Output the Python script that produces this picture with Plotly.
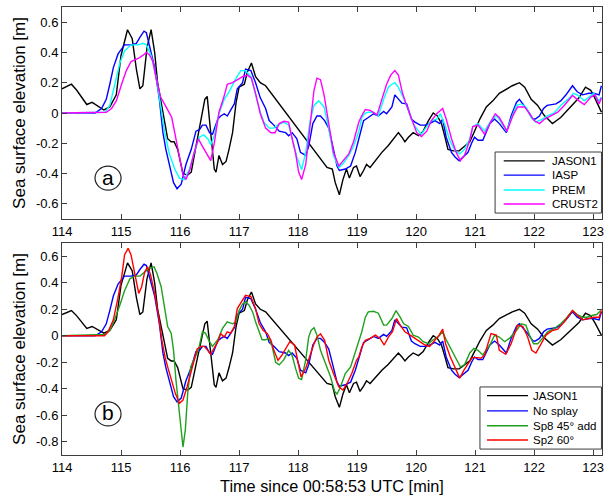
import plotly.graph_objects as go

# ---------------- data ----------------
jason_x = [114.0,114.16,114.25,114.42,114.51,114.64,114.71,114.81,114.92,115.0,115.11,115.19,115.26,115.32,115.37,115.44,115.51,115.57,115.62,115.71,115.79,115.85,115.90,115.96,116.05,116.13,116.19,116.27,116.36,116.42,116.46,116.50,116.54,116.58,116.61,116.66,116.72,116.78,116.83,116.89,116.95,117.0,117.09,117.14,117.21,117.28,117.36,117.45,118.49,118.58,118.63,118.70,118.76,118.82,118.87,118.94,118.99,119.05,119.11,119.16,119.22,119.31,119.42,119.53,119.62,119.70,119.76,119.81,119.87,119.95,120.04,120.12,120.21,120.29,120.36,120.43,120.49,120.54,120.63,120.73,120.82,120.91,120.99,121.08,121.19,121.30,121.41,121.53,121.63,121.75,121.84,121.95,122.06,122.17,122.31,122.45,122.62,122.76,122.87,122.96,123.04,123.14]
jason_y = [0.16,0.19,0.15,0.056,0.07,0.04,0.02,0.04,0.12,0.38,0.55,0.49,0.29,0.16,0.18,0.43,0.55,0.40,0.20,0.005,-0.17,-0.19,-0.19,-0.24,-0.40,-0.41,-0.39,-0.22,-0.02,0.09,0.11,-0.05,-0.25,-0.37,-0.39,-0.28,-0.34,-0.32,-0.24,-0.13,0.07,0.17,0.19,0.27,0.33,0.24,0.20,0.18,-0.36,-0.37,-0.46,-0.54,-0.44,-0.37,-0.43,-0.36,-0.35,-0.42,-0.38,-0.34,-0.36,-0.315,-0.26,-0.215,-0.17,-0.13,-0.16,-0.19,-0.16,-0.13,-0.15,-0.12,-0.05,0.0,-0.02,-0.07,-0.16,-0.24,-0.25,-0.25,-0.22,-0.19,-0.12,-0.04,0.04,0.08,0.13,0.16,0.18,0.20,0.17,0.09,0.05,-0.015,-0.07,-0.03,0.04,0.10,0.17,0.15,0.09,0.005]

iasp_x = [114.0,114.56,114.67,114.75,114.81,114.87,114.95,115.06,115.17,115.26,115.32,115.39,115.43,115.48,115.57,115.65,115.71,115.76,115.82,115.89,115.95,116.02,116.10,116.19,116.27,116.33,116.38,116.44,116.50,116.55,116.64,116.69,116.75,116.80,116.86,116.92,116.97,117.06,117.11,117.20,117.28,117.36,117.45,117.51,117.59,117.68,117.79,117.84,117.90,117.98,118.04,118.13,118.18,118.25,118.32,118.38,118.45,118.52,118.60,118.66,118.70,118.80,118.89,118.97,119.03,119.11,119.19,119.28,119.36,119.45,119.50,119.59,119.64,119.70,119.76,119.84,119.92,119.98,120.07,120.15,120.23,120.32,120.40,120.45,120.51,120.60,120.66,120.73,120.80,120.88,120.94,120.99,121.05,121.13,121.25,121.33,121.41,121.53,121.61,121.70,121.75,121.81,121.89,121.98,122.02,122.09,122.16,122.22,122.29,122.37,122.45,122.54,122.65,122.73,122.82,122.93,123.01,123.10,123.14]
iasp_y = [0.0,0.0,0.03,0.09,0.19,0.30,0.39,0.45,0.45,0.46,0.50,0.54,0.53,0.45,0.30,0.09,-0.13,-0.24,-0.35,-0.46,-0.50,-0.47,-0.34,-0.24,-0.12,-0.11,-0.08,-0.08,-0.13,-0.14,-0.04,-0.02,-0.005,-0.02,0.02,0.06,0.16,0.20,0.29,0.28,0.20,0.10,0.03,-0.05,-0.08,-0.12,-0.13,-0.15,-0.13,-0.17,-0.26,-0.28,-0.22,-0.07,-0.02,-0.02,-0.05,-0.10,-0.24,-0.35,-0.38,-0.37,-0.35,-0.26,-0.17,-0.05,-0.03,-0.005,-0.02,0.01,-0.005,0.04,0.12,0.09,0.065,0.06,-0.04,-0.06,-0.08,-0.08,-0.07,-0.05,-0.07,-0.04,-0.16,-0.26,-0.29,-0.315,-0.29,-0.26,-0.20,-0.16,-0.18,-0.18,-0.07,-0.04,-0.07,-0.13,-0.02,0.07,0.09,0.06,0.017,-0.04,-0.04,-0.02,0.03,0.05,0.055,0.06,0.08,0.12,0.18,0.14,0.12,0.13,0.13,0.12,0.18]

prem_x = [114.0,114.73,114.81,114.89,114.98,115.06,115.17,115.29,115.37,115.43,115.51,115.60,115.67,115.74,115.82,115.91,115.99,116.07,116.16,116.24,116.33,116.40,116.47,116.52,116.58,116.66,116.75,116.83,116.95,117.03,117.11,117.20,117.28,117.36,117.42,117.51,117.59,117.65,117.76,117.84,117.90,117.98,118.06,118.13,118.20,118.27,118.35,118.44,118.52,118.60,118.69,118.77,118.86,118.94,119.03,119.08,119.14,119.19,119.28,119.36,119.45,119.53,119.59,119.64,119.70,119.78,119.87,119.95,120.04,120.09,120.18,120.26,120.35,120.41,120.49,120.57,120.66,120.74,120.82,120.91,120.96,121.05,121.16,121.27,121.36,121.44,121.53,121.61,121.70,121.78,121.86,121.95,122.03,122.14,122.23,122.34,122.45,122.57,122.67,122.73,122.85,122.93,123.01,123.10,123.14]
prem_y = [0.0,0.005,0.05,0.18,0.33,0.41,0.45,0.45,0.46,0.45,0.38,0.23,0.05,-0.13,-0.27,-0.37,-0.43,-0.44,-0.37,-0.26,-0.16,-0.145,-0.17,-0.21,-0.15,-0.005,0.09,0.14,0.23,0.28,0.28,0.24,0.12,0.005,-0.06,-0.10,-0.10,-0.08,-0.06,-0.08,-0.17,-0.29,-0.375,-0.26,-0.06,0.05,0.08,0.04,-0.10,-0.28,-0.36,-0.33,-0.28,-0.22,-0.12,-0.03,0.0,0.005,0.005,-0.02,0.09,0.17,0.19,0.20,0.17,0.105,0.017,-0.07,-0.12,-0.14,-0.09,-0.05,-0.04,-0.005,-0.08,-0.18,-0.25,-0.27,-0.24,-0.17,-0.09,-0.07,-0.12,-0.05,-0.017,-0.06,-0.12,-0.04,0.05,0.06,0.04,-0.03,-0.06,-0.04,-0.017,0.001,0.05,0.09,0.13,0.12,0.08,0.105,0.13,0.08,0.105]

crust_x = [114.0,114.75,114.84,114.92,115.01,115.09,115.17,115.29,115.37,115.43,115.48,115.54,115.60,115.67,115.75,115.82,115.86,115.92,115.99,116.05,116.10,116.17,116.24,116.31,116.38,116.47,116.52,116.58,116.66,116.75,116.80,116.89,116.97,117.06,117.14,117.21,117.28,117.36,117.45,117.54,117.61,117.68,117.76,117.84,117.90,117.96,118.01,118.06,118.13,118.20,118.27,118.32,118.38,118.44,118.52,118.60,118.69,118.77,118.86,118.94,119.03,119.08,119.14,119.22,119.34,119.42,119.50,119.57,119.64,119.70,119.77,119.84,119.92,120.01,120.09,120.18,120.26,120.35,120.45,120.51,120.60,120.68,120.75,120.82,120.91,120.96,121.05,121.16,121.25,121.34,121.41,121.54,121.64,121.72,121.84,121.92,122.00,122.09,122.18,122.29,122.40,122.51,122.65,122.76,122.85,122.96,123.03,123.10,123.14]
crust_y = [0.0,0.005,0.03,0.08,0.19,0.28,0.34,0.36,0.38,0.40,0.385,0.34,0.22,0.105,0.05,0.005,-0.03,-0.15,-0.30,-0.41,-0.44,-0.37,-0.26,-0.17,-0.22,-0.28,-0.315,-0.20,0.005,0.115,0.19,0.20,0.22,0.24,0.25,0.23,0.13,-0.005,-0.10,-0.13,-0.13,-0.07,-0.055,-0.06,-0.17,-0.27,-0.39,-0.44,-0.34,-0.08,0.15,0.23,0.22,0.12,-0.08,-0.26,-0.35,-0.315,-0.27,-0.19,-0.06,-0.017,0.023,0.017,-0.012,0.09,0.19,0.25,0.28,0.25,0.13,0.05,-0.04,-0.13,-0.155,-0.12,-0.05,-0.005,0.03,-0.04,-0.17,-0.26,-0.315,-0.28,-0.18,-0.09,-0.08,-0.14,-0.07,-0.005,-0.03,-0.12,-0.017,0.04,0.04,-0.005,-0.05,-0.07,-0.04,-0.017,0.005,0.05,0.115,0.08,0.055,0.105,0.12,0.06,0.10]

sp8_x = [114.0,114.73,114.81,114.89,114.98,115.06,115.15,115.23,115.32,115.40,115.48,115.56,115.61,115.68,115.74,115.79,115.85,115.89,115.93,115.99,116.05,116.09,116.13,116.18,116.24,116.31,116.38,116.43,116.50,116.55,116.64,116.72,116.80,116.89,116.95,117.00,117.06,117.11,117.17,117.23,117.28,117.34,117.39,117.45,117.51,117.56,117.62,117.68,117.76,117.84,117.90,117.96,118.01,118.06,118.13,118.18,118.22,118.27,118.32,118.38,118.46,118.55,118.62,118.66,118.72,118.80,118.89,118.97,119.03,119.08,119.14,119.19,119.28,119.36,119.45,119.50,119.59,119.66,119.73,119.79,119.87,119.95,120.04,120.12,120.21,120.29,120.37,120.45,120.51,120.60,120.68,120.75,120.82,120.91,120.98,121.05,121.13,121.25,121.33,121.41,121.50,121.58,121.70,121.78,121.86,121.92,121.99,122.06,122.14,122.23,122.34,122.45,122.54,122.65,122.73,122.82,122.90,122.99,123.06,123.13]
sp8_y = [0.0,0.01,0.04,0.12,0.23,0.34,0.43,0.45,0.45,0.48,0.51,0.52,0.47,0.37,0.22,0.07,0.02,-0.11,-0.33,-0.59,-0.84,-0.71,-0.435,-0.235,-0.18,-0.11,0.03,0.02,-0.045,-0.08,-0.03,0.055,0.105,0.09,0.105,0.19,0.24,0.255,0.23,0.18,0.105,0.03,-0.03,-0.03,-0.02,-0.08,-0.20,-0.22,-0.18,-0.11,-0.15,-0.25,-0.32,-0.33,-0.18,-0.01,0.04,0.06,0.005,-0.11,-0.21,-0.31,-0.42,-0.44,-0.385,-0.285,-0.235,-0.13,-0.045,0.03,0.14,0.18,0.185,0.17,0.08,0.08,0.13,0.19,0.14,0.09,0.07,0.005,-0.01,-0.045,-0.06,-0.03,-0.01,0.03,-0.03,-0.11,-0.185,-0.235,-0.22,-0.13,-0.095,-0.11,-0.145,-0.07,0.005,-0.01,-0.045,-0.02,0.04,0.09,0.08,0.005,-0.06,-0.06,-0.02,0.03,0.055,0.09,0.13,0.19,0.16,0.14,0.14,0.155,0.16,0.19]

sp2_x = [114.0,114.72,114.78,114.87,114.95,115.01,115.06,115.12,115.17,115.23,115.30,115.35,115.40,115.45,115.50,115.57,115.64,115.69,115.75,115.80,115.86,115.92,115.99,116.05,116.12,116.19,116.24,116.29,116.36,116.41,116.47,116.52,116.64,116.69,116.75,116.80,116.86,116.92,116.97,117.04,117.11,117.20,117.28,117.34,117.41,117.48,117.54,117.59,117.66,117.73,117.79,117.86,117.94,118.00,118.05,118.13,118.20,118.27,118.32,118.38,118.45,118.52,118.60,118.69,118.76,118.83,118.91,118.99,119.03,119.08,119.14,119.22,119.31,119.39,119.46,119.53,119.60,119.67,119.73,119.81,119.90,119.98,120.07,120.15,120.23,120.32,120.39,120.45,120.50,120.58,120.66,120.74,120.81,120.88,120.95,121.04,121.10,121.16,121.27,121.36,121.41,121.52,121.61,121.67,121.72,121.81,121.89,121.96,122.03,122.12,122.20,122.31,122.40,122.51,122.65,122.73,122.82,122.93,123.01,123.10,123.14]
sp2_y = [0.0,0.0,0.03,0.12,0.29,0.44,0.61,0.66,0.61,0.47,0.32,0.37,0.48,0.52,0.46,0.32,0.14,-0.03,-0.17,-0.25,-0.335,-0.435,-0.51,-0.485,-0.385,-0.27,-0.18,-0.10,-0.08,-0.08,-0.11,-0.14,-0.045,0.015,-0.01,0.03,0.02,0.07,0.205,0.255,0.305,0.295,0.205,0.09,0.04,0.015,-0.035,-0.11,-0.185,-0.145,-0.095,-0.045,-0.07,-0.195,-0.31,-0.245,-0.145,-0.06,-0.01,0.015,-0.035,-0.185,-0.285,-0.385,-0.41,-0.36,-0.285,-0.185,-0.16,-0.085,-0.035,-0.02,0.005,-0.02,-0.07,-0.01,0.03,0.13,0.08,0.03,0.005,-0.02,-0.045,-0.07,-0.08,-0.035,0.005,0.05,-0.06,-0.16,-0.235,-0.32,-0.26,-0.21,-0.165,-0.165,-0.17,-0.145,0.017,0.005,-0.11,-0.14,-0.06,0.017,0.08,0.07,-0.01,-0.11,-0.13,-0.06,0.005,0.04,0.05,0.105,0.19,0.155,0.12,0.13,0.14,0.14,0.19]

top_names = ["JASON1", "IASP", "PREM", "CRUST2"]
bottom_names = ["JASON1", "No splay", "Sp8 45° add", "Sp2 60°"]
x_ticks = [114, 115, 116, 117, 118, 119, 120, 121, 122, 123]
top_yticks = [-0.6, -0.4, -0.2, 0, 0.2, 0.4, 0.6]
top_yticklabels = ["-0.6", "-0.4", "-0.2", "0", "0.2", "0.4", "0.6"]
bot_yticks = [-0.8, -0.6, -0.4, -0.2, 0, 0.2, 0.4, 0.6]
bot_yticklabels = ["-0.8", "-0.6", "-0.4", "-0.2", "0", "0.2", "0.4", "0.6"]
panel_labels = ["a", "b"]

# ---------------- styling ----------------
top_colors = ["#000000", "#0000ff", "#00ffff", "#ff00ff"]
bot_colors = ["#000000", "#0000ff", "#1fa01f", "#ff0000"]
FONT = "Arial, Liberation Sans, sans-serif"
AX = "#3c3c3c"
LW = 1.4

fig = go.Figure()
top_series = [(jason_x, jason_y), (iasp_x, iasp_y), (prem_x, prem_y), (crust_x, crust_y)]
bot_series = [(jason_x, jason_y), (iasp_x, iasp_y), (sp8_x, sp8_y), (sp2_x, sp2_y)]
for (xs, ys), name, col in zip(top_series, top_names, top_colors):
    fig.add_trace(go.Scatter(x=xs, y=ys, mode="lines", name=name, line=dict(color=col, width=LW),
                             xaxis="x", yaxis="y", showlegend=False))
for (xs, ys), name, col in zip(bot_series, bottom_names, bot_colors):
    fig.add_trace(go.Scatter(x=xs, y=ys, mode="lines", name=name, line=dict(color=col, width=LW),
                             xaxis="x2", yaxis="y2", showlegend=False))

common_x = dict(range=[114, 123.15], tickvals=x_ticks, ticks="inside", ticklen=5, tickcolor=AX,
                showline=True, linecolor=AX, linewidth=1, mirror="ticks", showgrid=False, zeroline=False,
                tickfont=dict(family=FONT, size=13, color="#000"))
common_y = dict(ticks="inside", ticklen=5, tickcolor=AX, showline=True, linecolor=AX, linewidth=1,
                mirror="ticks", showgrid=False, zeroline=False,
                tickfont=dict(family=FONT, size=13, color="#000"))

fig.update_layout(
    width=607, height=497,
    margin=dict(l=62, r=3, t=7, b=42),
    paper_bgcolor="white", plot_bgcolor="white",
    font=dict(family=FONT, color="#000"),
    xaxis=dict(domain=[0, 1], anchor="y", **common_x),
    yaxis=dict(domain=[0.5268, 1], anchor="x", range=[-0.7, 0.7], tickvals=top_yticks,
               ticktext=top_yticklabels,
               title=dict(text="Sea surface elevation [m]", font=dict(size=17, family=FONT), standoff=6),
               **common_y),
    xaxis2=dict(domain=[0, 1], anchor="y2",
                title=dict(text="Time since 00:58:53 UTC [min]", font=dict(size=16.3, family=FONT), standoff=6),
                **common_x),
    yaxis2=dict(domain=[0, 0.4732], anchor="x2", range=[-0.9, 0.7], tickvals=bot_yticks,
                ticktext=bot_yticklabels,
                title=dict(text="Sea surface elevation [m]", font=dict(size=17, family=FONT), standoff=6),
                **common_y),
)

shapes = []
annotations = []

# circled panel labels
for lab, xa, ya, yc in [(panel_labels[0], "x", "y", -0.43), (panel_labels[1], "x2", "y2", -0.59)]:
    shapes.append(dict(type="circle", xref=xa, yref=ya, xsizemode="pixel", ysizemode="pixel",
                       xanchor=114.78, yanchor=yc, x0=-13, x1=13, y0=-12, y1=12,
                       line=dict(color="#222", width=1.2)))
    annotations.append(dict(x=114.78, y=yc, xref=xa, yref=ya, text=lab, showarrow=False,
                            font=dict(size=21, family=FONT, color="#000"), yshift=1))

# legends drawn as boxes
def legend(names, colors, xd, yd, box, line_x, text_x, ys):
    shapes.append(dict(type="rect", xref=xd, yref=yd, x0=box[0], x1=box[1], y0=box[2], y1=box[3],
                       line=dict(color=AX, width=1), fillcolor="white", layer="above"))
    for n, c, yy in zip(names, colors, ys):
        shapes.append(dict(type="line", xref=xd, yref=yd, x0=line_x[0], x1=line_x[1], y0=yy, y1=yy,
                           line=dict(color=c, width=LW), layer="above"))
        annotations.append(dict(x=text_x, y=yy, xref=xd, yref=yd, text=n, showarrow=False,
                                xanchor="left", yanchor="middle", font=dict(size=11.5, family=FONT, color="#000")))

legend(top_names, top_colors, "x domain", "y domain", (0.802, 0.999, 0.028, 0.316),
       (0.818, 0.894), 0.903, [0.274, 0.207, 0.137, 0.071])
legend(bottom_names, bot_colors, "x2 domain", "y2 domain", (0.774, 0.999, 0.028, 0.321),
       (0.787, 0.863), 0.868, [0.280, 0.208, 0.138, 0.071])

fig.update_layout(shapes=shapes, annotations=annotations)
fig.write_html("out.html")
